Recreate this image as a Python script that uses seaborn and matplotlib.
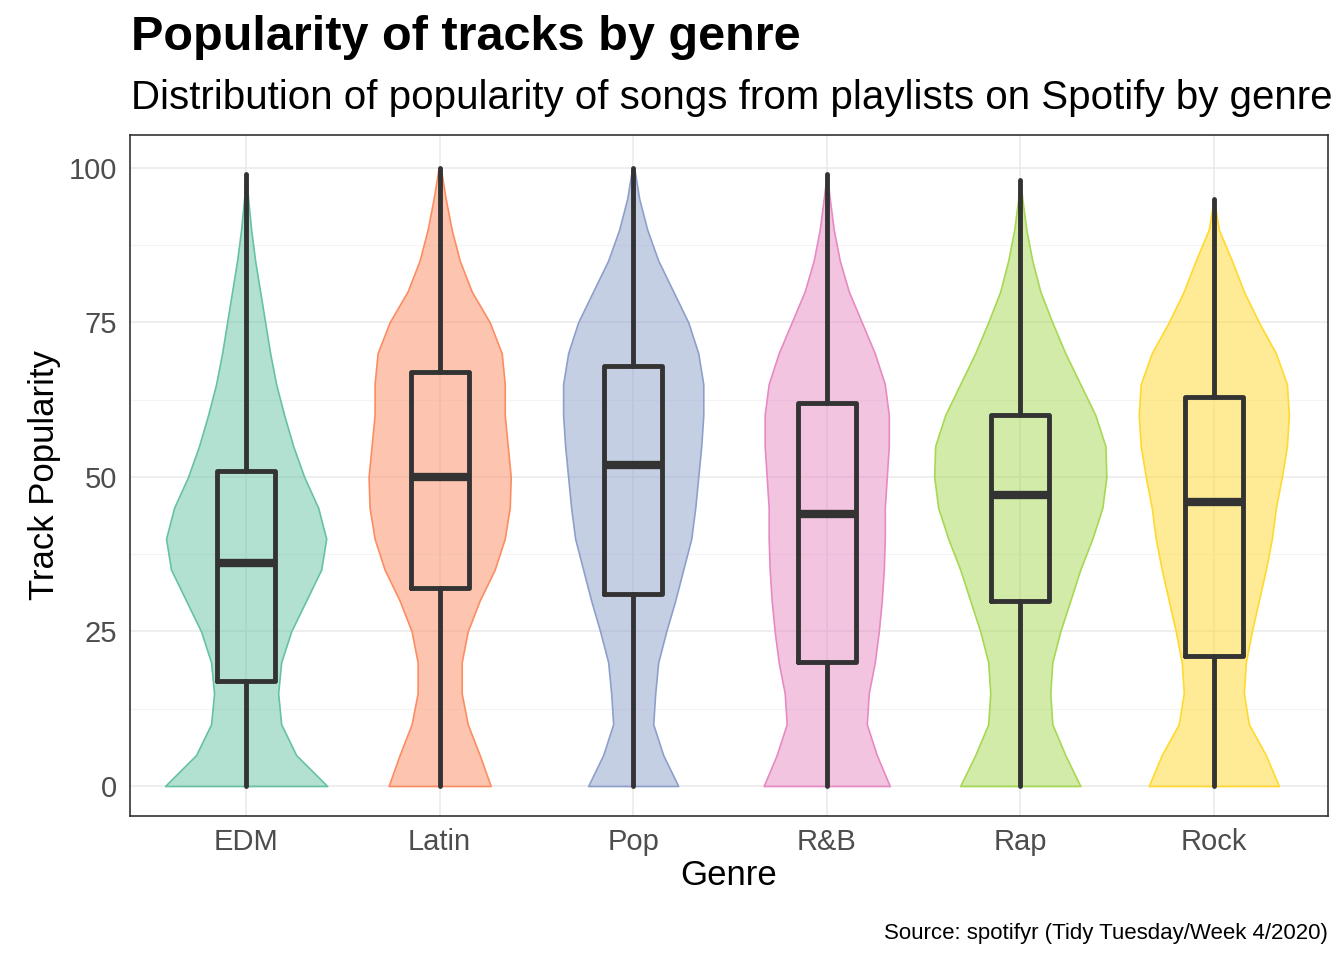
import numpy as np
import matplotlib
matplotlib.use("Agg")
import matplotlib.pyplot as plt
import seaborn as sns

genres = ["EDM", "Latin", "Pop", "R&B", "Rap", "Rock"]
levels = [0, 5, 10, 15, 20, 25, 30, 35, 40, 45, 50, 55, 60, 65, 70, 75, 80, 85, 90, 95, 100]
# violin half-widths (relative density profile) at each level
edm_w = [81, 50, 35, 32, 35, 45, 60, 75, 80, 72, 58, 47, 38, 30, 24, 19, 14, 9, 5, 2, 0]
latin_w = [51, 40, 28, 22, 22, 28, 40, 55, 65, 70, 71, 68, 65, 65, 62, 50, 32, 20, 12, 6, 1]
pop_w = [45, 30, 20, 22, 25, 33, 42, 50, 58, 62, 65, 68, 70, 70, 65, 55, 40, 25, 14, 6, 1]
rnb_w = [63, 50, 40, 42, 48, 52, 55, 57, 58, 58, 60, 62, 62, 58, 48, 35, 22, 13, 7, 3, 0]
rap_w = [60, 45, 32, 30, 32, 40, 50, 60, 72, 82, 86, 85, 75, 60, 45, 32, 20, 12, 6, 2, 0]
rock_w = [65, 52, 35, 30, 32, 38, 45, 52, 58, 62, 68, 73, 75, 73, 62, 45, 30, 18, 5, 0, 0]
widths = [edm_w, latin_w, pop_w, rnb_w, rap_w, rock_w]
tops = [99, 100, 100, 99, 98, 95]

# box stats
q1 = [17, 32, 31, 20, 30, 21]
med = [36, 50, 52, 44, 47, 46]
q3 = [51, 67, 68, 62, 60, 63]
whislo = [0, 0, 0, 0, 0, 0]
whishi = [99, 100, 100, 99, 98, 95]

sns.set_style("white")
plt.rcParams['font.family'] = ['Liberation Sans', 'DejaVu Sans']
palette = sns.color_palette("Set2", 6)

fig = plt.figure(figsize=(13.44, 9.6), dpi=100)
ax = fig.add_axes([130 / 1344, 1 - 816 / 960, (1328 - 130) / 1344, (816 - 135) / 960])

scale = 0.45 / 87.0
for i, (w, top, c) in enumerate(zip(widths, tops, palette)):
    lv = np.array(levels, dtype=float)
    wv = np.array(w, dtype=float) * scale
    keep = lv <= top
    lv = np.append(lv[keep], top)
    wv = np.append(wv[keep], 0.0)
    ax.fill_betweenx(lv, i - wv, i + wv, facecolor=(*c, 0.5), edgecolor=c,
                     linewidth=1.2, joinstyle="round", zorder=2)

stats = [dict(med=m, q1=a, q3=b, whislo=lo, whishi=hi, fliers=[])
         for m, a, b, lo, hi in zip(med, q1, q3, whislo, whishi)]
ax.bxp(stats, positions=range(6), widths=0.3, showcaps=False, patch_artist=False,
       boxprops=dict(color="#333333", linewidth=3.5),
       whiskerprops=dict(color="#333333", linewidth=3.5),
       medianprops=dict(color="#333333", linewidth=6, solid_capstyle="butt"),
       zorder=3)

ax.set_xlim(-0.6, 5.59)
ax.set_ylim(-4.85, 105.3)
ax.set_yticks([0, 25, 50, 75, 100])
ax.set_yticks([12.5, 37.5, 62.5, 87.5], minor=True)
ax.set_xticks(range(6))
ax.set_xticklabels(genres)
ax.grid(True, which="major", color="#ebebeb", linewidth=1.2, zorder=0)
ax.grid(True, which="minor", color="#f4f4f4", linewidth=0.8, zorder=0)
ax.set_axisbelow(True)
for s in ax.spines.values():
    s.set_color("#333333")
    s.set_linewidth(1.2)
ax.tick_params(axis="both", labelsize=21, colors="#4d4d4d", length=5, width=1.2, color="#333333", pad=4)
ax.tick_params(which="minor", length=0)
ax.set_xlabel("Genre", fontsize=25, color="black", labelpad=2)
ax.set_ylabel("Track Popularity", fontsize=25, color="black", labelpad=6)

fig.text(131 / 1344, 1 - 37 / 960, "Popularity of tracks by genre", fontsize=35,
         fontweight="bold", va="center", color="black")
fig.text(131 / 1344, 1 - 98 / 960, "Distribution of popularity of songs from playlists on Spotify by genre",
         fontsize=29, va="center", color="black")
fig.text(1328 / 1344, 1 - 933 / 960, "Source: spotifyr (Tidy Tuesday/Week 4/2020)", fontsize=16,
         ha="right", va="center", color="black")

plt.savefig("out.png", dpi=100, facecolor="white")
